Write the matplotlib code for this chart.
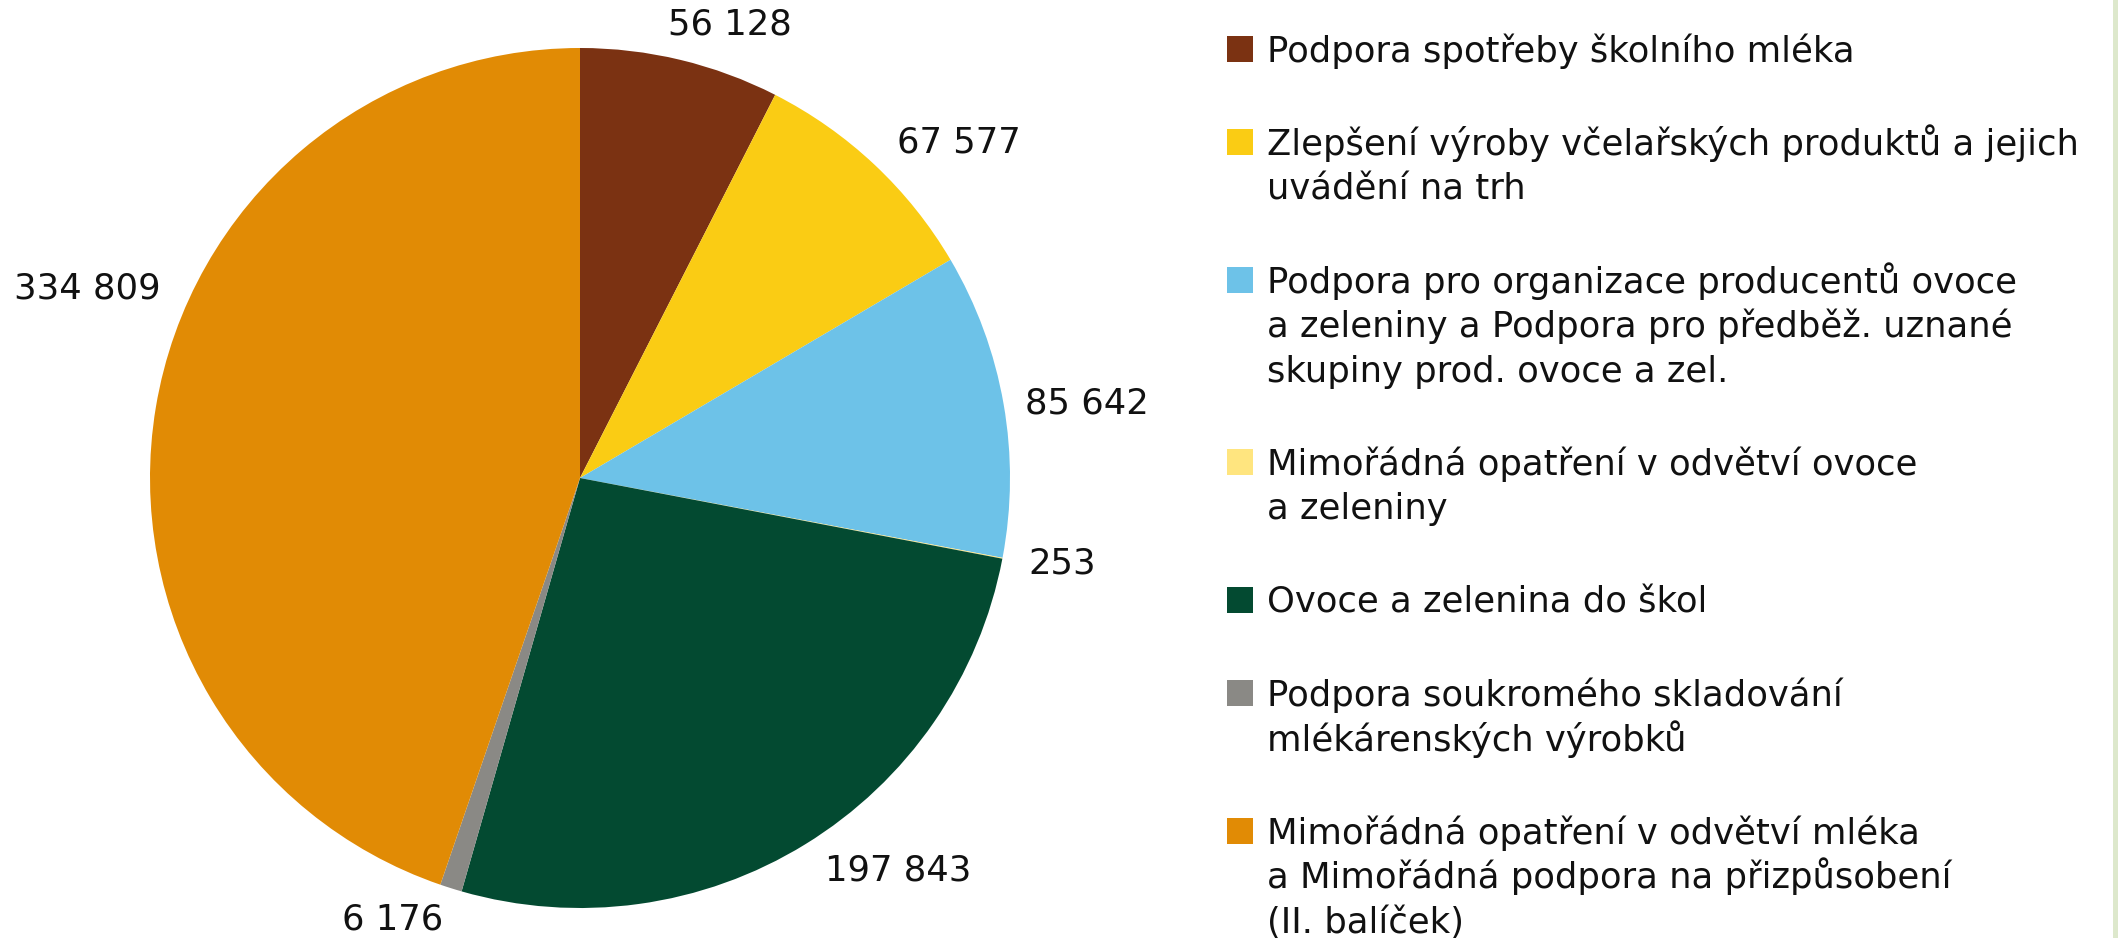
import numpy as np
import matplotlib
matplotlib.use('Agg')
import matplotlib.pyplot as plt
from matplotlib.patches import Rectangle

# Data (thousand CZK)
categories = [
    'Podpora spotřeby školního mléka',
    'Zlepšení výroby včelařských produktů a jejich\nuvádění na trh',
    'Podpora pro organizace producentů ovoce\na zeleniny a Podpora pro předběž. uznané\nskupiny prod. ovoce a zel.',
    'Mimořádná opatření v odvětví ovoce\na zeleniny',
    'Ovoce a zelenina do škol',
    'Podpora soukromého skladování\nmlékárenských výrobků',
    'Mimořádná opatření v odvětví mléka\na Mimořádná podpora na přizpůsobení\n(II. balíček)',
]
values = [56128, 67577, 85642, 253, 197843, 6176, 334809]
colors = ['#7B3212', '#FACC14', '#6DC2E8', '#FFE57F', '#034A31', '#8A8985', '#E18B05']

# label placement: radial distance and angle tweak (deg) relative to wedge middle
label_dist = [1.112, 1.178, 1.192, 1.138, 1.176, 1.115, 1.227]
label_turn = [-4.8, -5.2, -1.5, 0.7, 7.4, -5.6, -11.6]

W, H = 2118, 938
fig = plt.figure(figsize=(W / 100, H / 100), dpi=100)
fig.patch.set_facecolor('white')

# pie centre at (580, 478) px, radius 430 px
cx, cy, r = 580, 478, 430
ax = fig.add_axes([(cx - r) / W, (H - cy - r) / H, 2 * r / W, 2 * r / H])
wedges, _ = ax.pie(values, colors=colors, startangle=90, counterclock=False,
                   radius=1, wedgeprops=dict(linewidth=0))
ax.set_xlim(-1, 1)
ax.set_ylim(-1, 1)
ax.set_aspect('equal')
ax.axis('off')

fs = 25.5
for w, v, d, t in zip(wedges, values, label_dist, label_turn):
    mid = np.deg2rad((w.theta1 + w.theta2) / 2 + t)
    txt = f'{v:,}'.replace(',', ' ')
    ax.text(d * np.cos(mid), d * np.sin(mid), txt, ha='center', va='center',
            fontsize=fs, color='#111111', family='DejaVu Sans')

# legend drawn by hand so the box sits at the first line
sq_x, sq = 1227, 26
txt_x = 1267
pitch = 44.3
gap = 93.4
y = 49.0
for lab, c in zip(categories, colors):
    fig.patches.append(Rectangle((sq_x / W, 1 - (y + sq / 2) / H), sq / W, sq / H,
                                 transform=fig.transFigure, facecolor=c,
                                 edgecolor='none'))
    lines = lab.split('\n')
    for j, line in enumerate(lines):
        fig.text(txt_x / W, 1 - (y + 13 + j * pitch) / H, line, ha='left',
                 va='baseline', fontsize=fs, color='#111111', family='DejaVu Sans')
    y += (len(lines) - 1) * pitch + gap

# thin light-green strip on the right border
fig.patches.append(Rectangle((2113 / W, 0), 5 / W, 1, transform=fig.transFigure,
                             facecolor='#DDE8CC', edgecolor='none'))

fig.savefig('out.png', dpi=100)
